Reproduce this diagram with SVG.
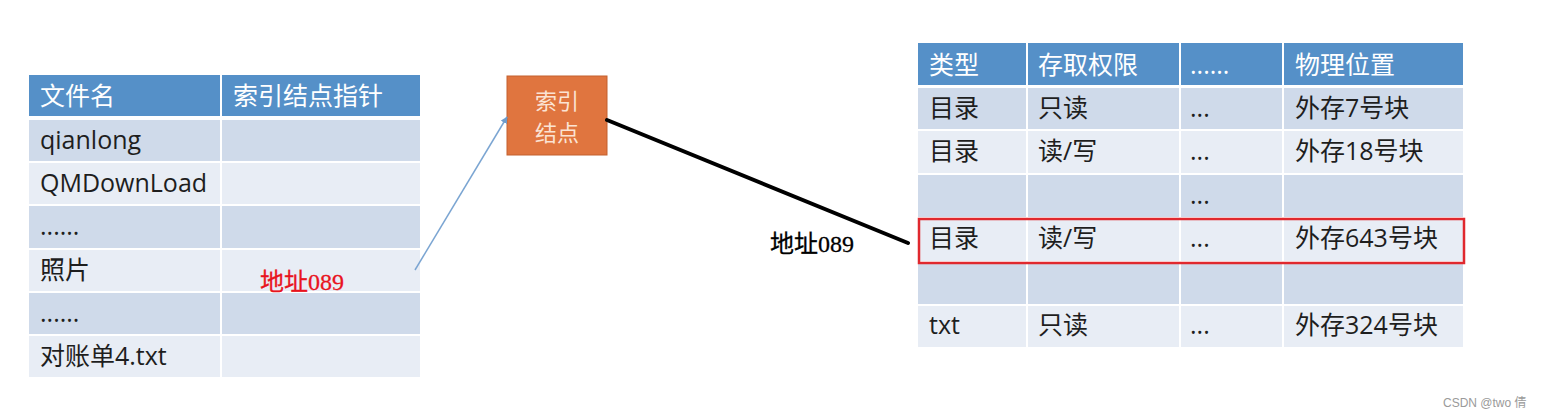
<svg xmlns="http://www.w3.org/2000/svg" width="1545" height="418" viewBox="0 0 1545 418">
  <defs>
    <style>
      .hd { fill: #5590C8; }
      .dk { fill: #CFDAEA; }
      .lt { fill: #E8EDF5; }
      .ht { font-family: "Open Sans", "Noto Sans CJK SC", sans-serif; font-size: 25px; fill: #FFFFFF; }
      .ct { font-family: "Open Sans", "Noto Sans CJK SC", sans-serif; font-size: 25px; fill: #1E1E1E; }
      .nt { font-family: "Noto Sans CJK SC", sans-serif; font-size: 22px; fill: #FBE3D3; text-anchor: middle; }
      .lbl { font-family: "Liberation Serif", "Noto Sans CJK SC", serif; font-size: 24px; stroke-width: 0.3; }
      .wm { font-family: "Liberation Sans", "Noto Sans CJK SC", sans-serif; font-size: 12px; fill: #9A9A9A; }
    </style>
    <marker id="arrBlue" viewBox="0 0 10 10" refX="9" refY="5" markerWidth="7" markerHeight="7" orient="auto" markerUnits="userSpaceOnUse">
      <path d="M0,0 L10,5 L0,10 z" fill="#6F9CCB"/>
    </marker>
  </defs>
  <rect width="1545" height="418" fill="#FFFFFF"/>

  <g id="file-table">
    <rect class="hd" x="29" y="75" width="191" height="41"/>
    <rect class="hd" x="222" y="75" width="198" height="41"/>
    <rect class="dk" x="29" y="120" width="191" height="41"/>
    <rect class="dk" x="222" y="120" width="198" height="41"/>
    <rect class="lt" x="29" y="163" width="191" height="41"/>
    <rect class="lt" x="222" y="163" width="198" height="41"/>
    <rect class="dk" x="29" y="206" width="191" height="42"/>
    <rect class="dk" x="222" y="206" width="198" height="42"/>
    <rect class="lt" x="29" y="250" width="191" height="41"/>
    <rect class="lt" x="222" y="250" width="198" height="41"/>
    <rect class="dk" x="29" y="293" width="191" height="41"/>
    <rect class="dk" x="222" y="293" width="198" height="41"/>
    <rect class="lt" x="29" y="336" width="191" height="41"/>
    <rect class="lt" x="222" y="336" width="198" height="41"/>
    <text class="ht" x="40" y="105">文件名</text>
    <text class="ht" x="233" y="105">索引结点指针</text>
    <text class="ct" x="40" y="149">qianlong</text>
    <text class="ct" x="40" y="192">QMDownLoad</text>
    <text class="ct" x="40" y="235">......</text>
    <text class="ct" x="40" y="279">照片</text>
    <text class="ct" x="40" y="322">......</text>
    <text class="ct" x="40" y="365">对账单4.txt</text>
  </g>

  <g id="index-node">
    <rect x="507" y="76" width="100" height="79" fill="#E0753F" stroke="#C3612F" stroke-width="1"/>
    <text class="nt" x="557" y="109">索引</text>
    <text class="nt" x="557" y="141">结点</text>
  </g>

  <g id="inode-table">
    <rect class="hd" x="918" y="43" width="108" height="42"/>
    <rect class="hd" x="1028" y="43" width="151" height="42"/>
    <rect class="hd" x="1181" y="43" width="101" height="42"/>
    <rect class="hd" x="1284" y="43" width="179" height="42"/>

    <rect class="dk" x="918" y="88" width="108" height="41"/>
    <rect class="dk" x="1028" y="88" width="151" height="41"/>
    <rect class="dk" x="1181" y="88" width="101" height="41"/>
    <rect class="dk" x="1284" y="88" width="179" height="41"/>

    <rect class="lt" x="918" y="131" width="108" height="42"/>
    <rect class="lt" x="1028" y="131" width="151" height="42"/>
    <rect class="lt" x="1181" y="131" width="101" height="42"/>
    <rect class="lt" x="1284" y="131" width="179" height="42"/>

    <rect class="dk" x="918" y="175" width="108" height="42"/>
    <rect class="dk" x="1028" y="175" width="151" height="42"/>
    <rect class="dk" x="1181" y="175" width="101" height="42"/>
    <rect class="dk" x="1284" y="175" width="179" height="42"/>

    <rect class="lt" x="918" y="219" width="108" height="42"/>
    <rect class="lt" x="1028" y="219" width="151" height="42"/>
    <rect class="lt" x="1181" y="219" width="101" height="42"/>
    <rect class="lt" x="1284" y="219" width="179" height="42"/>

    <rect class="dk" x="918" y="264" width="108" height="40"/>
    <rect class="dk" x="1028" y="264" width="151" height="40"/>
    <rect class="dk" x="1181" y="264" width="101" height="40"/>
    <rect class="dk" x="1284" y="264" width="179" height="40"/>

    <rect class="lt" x="918" y="306" width="108" height="41"/>
    <rect class="lt" x="1028" y="306" width="151" height="41"/>
    <rect class="lt" x="1181" y="306" width="101" height="41"/>
    <rect class="lt" x="1284" y="306" width="179" height="41"/>

    <text class="ht" x="929" y="74">类型</text>
    <text class="ht" x="1038" y="74">存取权限</text>
    <text class="ht" x="1190" y="74">......</text>
    <text class="ht" x="1295" y="74">物理位置</text>

    <text class="ct" x="929" y="117">目录</text>
    <text class="ct" x="1038" y="117">只读</text>
    <text class="ct" x="1190" y="117">...</text>
    <text class="ct" x="1295" y="117">外存7号块</text>

    <text class="ct" x="929" y="160">目录</text>
    <text class="ct" x="1038" y="160">读/写</text>
    <text class="ct" x="1190" y="160">...</text>
    <text class="ct" x="1295" y="160">外存18号块</text>

    <text class="ct" x="1190" y="204">...</text>

    <text class="ct" x="929" y="247">目录</text>
    <text class="ct" x="1038" y="247">读/写</text>
    <text class="ct" x="1190" y="247">...</text>
    <text class="ct" x="1295" y="247">外存643号块</text>

    <text class="ct" x="929" y="334">txt</text>
    <text class="ct" x="1038" y="334">只读</text>
    <text class="ct" x="1190" y="334">...</text>
    <text class="ct" x="1295" y="334">外存324号块</text>

    <rect x="919" y="219" width="545" height="44" fill="none" stroke="#E0282E" stroke-width="2.5"/>
  </g>

  <g id="connectors">
    <line x1="415" y1="270" x2="507" y2="117" stroke="#7BA5D2" stroke-width="1.5" marker-end="url(#arrBlue)"/>
    <line x1="607" y1="120" x2="908" y2="243" stroke="#000000" stroke-width="4" stroke-linecap="round"/>
  </g>

  <g id="labels">
    <text class="lbl" x="260" y="290" fill="#E8141E" stroke="#E8141E">地址089</text>
    <text class="lbl" x="770" y="252" fill="#000000" stroke="#000000">地址089</text>
    <text class="wm" x="1443" y="407">CSDN @two 倩</text>
  </g>
</svg>
